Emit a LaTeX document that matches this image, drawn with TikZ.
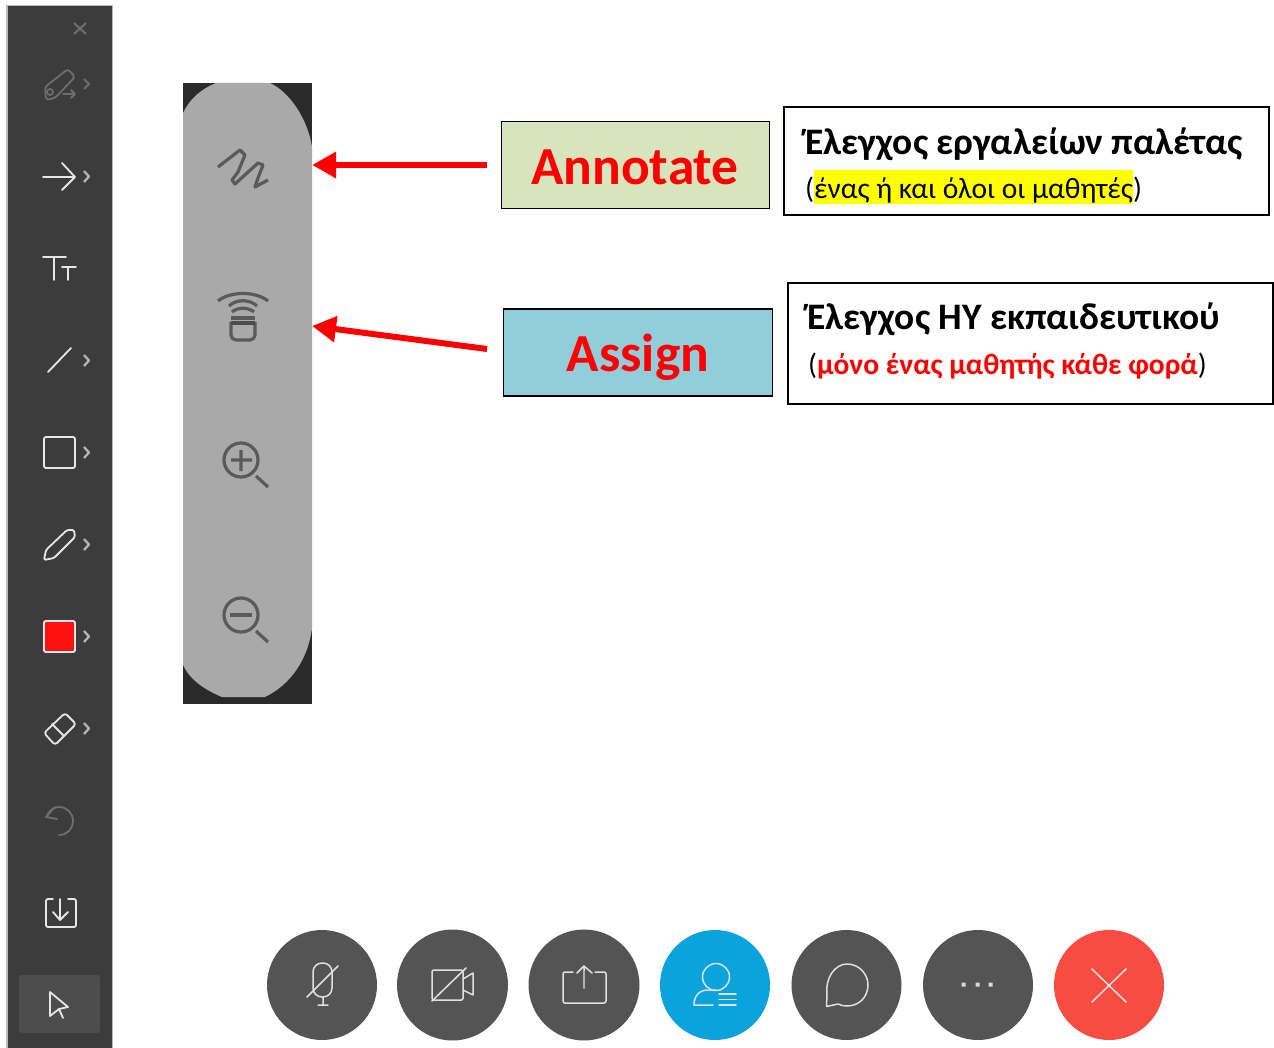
\documentclass[tikz,border=0pt]{standalone}
\usepackage{fontspec}
\setmainfont{Carlito}
\usetikzlibrary{arrows.meta}
\definecolor{bar}{HTML}{3C3C3C}
\definecolor{barsel}{HTML}{4D4D4D}
\definecolor{dim}{HTML}{6E6E6E}
\definecolor{ico}{HTML}{E6E6E6}
\definecolor{chev}{HTML}{B4B4B4}
\definecolor{paldark}{HTML}{2A2A2A}
\definecolor{pal}{HTML}{A9A9A9}
\definecolor{palico}{HTML}{5A5A5A}
\definecolor{rnd}{HTML}{545454}
\definecolor{rndblue}{HTML}{0AA3DC}
\definecolor{rndred}{HTML}{F64C42}
\definecolor{greenbox}{HTML}{D7E4BC}
\definecolor{bluebox}{HTML}{92CDDC}
\definecolor{hl}{HTML}{FFFF00}
\definecolor{redsq}{HTML}{FF1010}
\tikzset{
  x=1pt,y=-1pt,
  toolicon/.style={draw=ico,line width=1.8pt,line cap=round,line join=round},
  dimicon/.style={draw=dim,line width=1.8pt,line cap=round,line join=round},
  chevron/.style={draw=chev,line width=2.3pt,line join=round},
  palicon/.style={draw=palico,line width=3.2pt,line join=round},
  roundbtn/.style={circle,minimum size=110pt,inner sep=0pt,fill=rnd},
  btnicon/.style={draw=white!88!black,line width=1.5pt,line cap=round,line join=round},
  labelbox/.style={draw=black,line width=1.8pt,inner sep=0pt,outer sep=0pt,anchor=north west},
  notebox/.style={draw=black,line width=2pt,fill=white,inner sep=0pt,outer sep=0pt,anchor=north west},
  bigred/.style={text=red,font=\bfseries\fontsize{53.5}{53.5}\selectfont,anchor=base,inner sep=0pt},
  titletext/.style={font=\bfseries\fontsize{37.4}{37.4}\selectfont,anchor=base west,inner sep=0pt},
  subtext/.style={font=\fontsize{29.5}{29.5}\selectfont,anchor=base west,inner sep=0pt},
  redarrow/.style={draw=red,line width=6pt,-{Triangle[length=24pt,width=25pt]}},
}
\begin{document}
\begin{tikzpicture}
\useasboundingbox (0,0) rectangle (1274,1048);
% left toolbar
\fill[white!72!black] (6,5) rectangle (113,1048);
\fill[bar] (7.5,6.5) rectangle (111.5,1048);
\draw[dim,line width=2pt] (74,23) -- (86,34) (86,23) -- (74,34);
% annotate pen (dim)
\draw[dimicon,rounded corners=3pt] (45,87) -- (68,69) -- (75,77) -- (55,98) -- (46,100) -- cycle;
\draw[dimicon] (50,92) circle (3pt);
\draw[dimicon] (63,94) -- (75,94) (71,90) -- (75,94) -- (71,98);
\draw[draw=dim,line width=2pt] (84,79) -- (89,84) -- (84,89);
% arrow
\draw[toolicon] (43,177) -- (75,177) (62,163) -- (75,177) -- (62,190);
\draw[chevron] (84,171) -- (89,176.5) -- (84,182);
% text
\draw[toolicon] (43,257) -- (66,257) (54,257) -- (54,280) (62,267) -- (76,267) (68,267) -- (68,280);
% line
\draw[toolicon] (48,372) -- (71,348);
\draw[chevron] (84,355) -- (89,360.5) -- (84,366);
% rectangle
\draw[toolicon,rounded corners=2pt] (44,437) rectangle (75,468);
\draw[chevron] (84,447) -- (89,452.5) -- (84,458);
% pencil
\draw[toolicon,rounded corners=1.5pt] (44,560) -- (46,550) -- (67,530) -- (74,530) -- (75,537) -- (54,558) -- cycle;
\draw[chevron] (84,539) -- (89,544.5) -- (84,550);
% colour square
\draw[draw=ico,line width=1.8pt,fill=redsq,rounded corners=1.5pt] (44,621) rectangle (75,652);
\draw[chevron] (84,631) -- (89,636.5) -- (84,642);
% eraser
\draw[toolicon,rounded corners=3pt] (44,733) -- (65,713) -- (76,724) -- (55,745) -- cycle;
\draw[toolicon] (52,724) -- (64,736);
\draw[chevron] (84,723) -- (89,728.5) -- (84,734);
% undo (dim)
\draw[dimicon] (59,835) .. controls (67,835) and (73,829) .. (73,821) .. controls (73,813) and (67,807) .. (59,807) .. controls (54,807) and (50,810) .. (47,815);
\draw[dimicon] (55,807) -- (46,817) -- (57,819);
% save
\draw[toolicon,rounded corners=2pt] (53,899) -- (46,899) -- (46,927) -- (76,927) -- (76,899) -- (68,899);
\draw[toolicon] (60,899) -- (60,920) (53,912) -- (60,920) -- (68,912);
% select
\fill[barsel,rounded corners=3pt] (19,975) rectangle (100,1033);
\draw[toolicon] (50,992) -- (68,1007) -- (59,1009) -- (50,1016) -- cycle (59,1009) -- (63,1018);

% palette
\fill[paldark] (183,83) rectangle (312,704);
\fill[pal] (183,113) .. controls (190,98) and (203,88) .. (216,83) -- (270,83)
  .. controls (290,92) and (308,120) .. (312,147) -- (312,628)
  .. controls (308,660) and (290,685) .. (265,697) -- (222,697)
  .. controls (205,690) and (190,680) .. (183,665) -- cycle;
\draw[palicon] (218,167) -- (240,150) -- (245,155) -- (238,172) -- (232,180) -- (235,184)
  -- (258,163) -- (263,165) -- (258,178) -- (255,187) -- (268,180);
\draw[palicon] (218,301) .. controls (230,291) and (256,291) .. (268,301);
\draw[palicon] (229,306) .. controls (236,299) and (250,299) .. (257,306);
\draw[palicon] (232,312) .. controls (238,307) and (248,307) .. (254,312);
\draw[palicon,line width=3.5pt] (231,318) -- (255,318);
\draw[palicon,rounded corners=5pt] (231,322) -- (231,340) -- (255,340) -- (255,322);
\fill[palico!85!black] (231,321) rectangle (255,325);
\draw[palicon] (241,460) circle (17pt) (256,476) -- (268,487) (231,460) -- (252,460) (241,450) -- (241,471);
\draw[palicon] (241,615) circle (17pt) (256,631) -- (268,642);
\draw[palicon,line width=3.5pt] (230,615) -- (252,615);

% label boxes
\node[labelbox,fill=greenbox,minimum width=268pt,minimum height=87pt] (annot) at (501.5,121.5) {};
\node[bigred] (annottext) at (635,184.5) {Annotate};
\node[labelbox,fill=bluebox,minimum width=269pt,minimum height=87pt] (assign) at (503.5,309) {};
\node[bigred] (assigntext) at (638,372) {Assign};
\coordinate (annotfrom) at (487,165);
\coordinate (annotto) at (312,165);
\coordinate (assignfrom) at (487,349);
\coordinate (assignto) at (312,326);
\draw[redarrow] (annotfrom) -- (annotto);
\draw[redarrow] (assignfrom) -- (assignto);

% note boxes
\node[notebox,minimum width=485pt,minimum height=108pt] (note1) at (784,107) {};
\fill[hl] (814,170) rectangle (1133,204);
\node[titletext] (t1) at (805,155) {Έλεγχος εργαλείων παλέτας};
\node[subtext] (s1) at (805,199) {(ένας ή και όλοι οι μαθητές)};
\node[notebox,minimum width=485pt,minimum height=121pt] (note2) at (788,283) {};
\node[titletext] (t2) at (807,330) {Έλεγχος ΗΥ εκπαιδευτικού};
\node[subtext] (s2) at (808,374) {(\textcolor{red}{\bfseries μόνο ένας μαθητής κάθε φορά})};

% bottom buttons
\node[roundbtn] (mic) at (322,985) {};
\node[roundbtn,minimum size=111pt] (cam) at (452.5,985) {};
\node[roundbtn,minimum size=111pt] (share) at (584,985) {};
\node[roundbtn,fill=rndblue] (user) at (715,985) {};
\node[roundbtn] (chat) at (846.5,985) {};
\node[roundbtn] (more) at (978,985) {};
\node[roundbtn,fill=rndred] (endcall) at (1109,985) {};
% mic
\draw[btnicon,rounded corners=9pt] (313,963) rectangle (332,997);
\draw[btnicon] (323,997) -- (323,1005) (318,1005) -- (328,1005) (307,997) -- (338,966);
% camera
\draw[btnicon,rounded corners=1.5pt] (432,970) rectangle (463,1000);
\draw[btnicon] (463,979) -- (473,973) -- (473,995) -- (463,990) (432,1001) -- (466,968);
% share
\draw[btnicon,rounded corners=2pt] (573,972) -- (563,972) -- (563,1003) -- (606,1003) -- (606,972) -- (595,972);
\draw[btnicon] (584,988) -- (584,966) (577,973) -- (584,966) -- (592,973);
\draw[draw=white!70!black,line width=2.5pt] (584,971) -- (584,988);
% user
\draw[btnicon] (716,977) circle (13.5pt);
\draw[btnicon] (713,1005) -- (694,1005) .. controls (694,996) and (699,990) .. (708,990) -- (716,990);
\draw[btnicon] (719,994) -- (736,994) (719,999.5) -- (736,999.5) (719,1005) -- (736,1005);
% chat
\draw[btnicon] (827,994) .. controls (825,978) and (835,964) .. (847,964) .. controls (859,964) and (868,974) .. (868,985)
  .. controls (868,997) and (859,1006) .. (847,1006) .. controls (844,1006) and (841,1005.5) .. (838,1004) -- (826.5,1006.5) -- cycle;
% more
\fill[white!85!black] (961.5,982.5) rectangle (965.5,986.5) (975.5,982.5) rectangle (979.5,986.5) (988.5,982.5) rectangle (992.5,986.5);
% end
\draw[btnicon] (1092,969) -- (1126,1002) (1126,969) -- (1092,1002);
\end{tikzpicture}
\end{document}
